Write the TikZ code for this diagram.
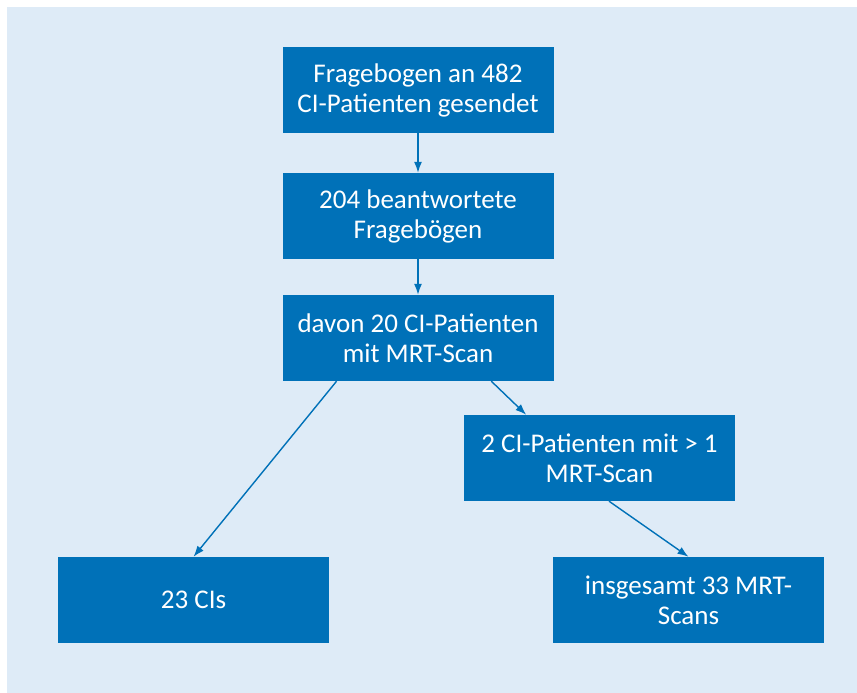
\documentclass[tikz,border=0pt]{standalone}
\usepackage{fontspec}
\setmainfont{Carlito}
\usetikzlibrary{arrows.meta,positioning,calc}
\definecolor{boxblue}{RGB}{0,113,184}
\definecolor{bglight}{RGB}{222,235,247}

\begin{document}
\begin{tikzpicture}[x=1pt,y=1pt,
    box/.style={fill=boxblue, text=white, minimum width=271pt, minimum height=86pt,
                inner sep=0pt, align=center, font=\fontsize{27}{30}\selectfont},
    flow/.style={draw=boxblue, line width=1.4pt, -{Latex[length=11pt,width=8pt]}}]
    % Page and light background
    \useasboundingbox (0,0) rectangle (857,693);
    \fill[bglight] (7,0) rectangle (857,686);

    % Boxes
    \node[box] (sent) at (418,603) {Fragebogen an 482\\CI-Patienten gesendet};
    \node[box] (answered) at (418,477) {204 beantwortete\\Fragebögen};
    \node[box] (mri) at (418,355) {davon 20 CI-Patienten\\mit MRT-Scan};
    \node[box] (multi) at (599.5,235) {2 CI-Patienten mit > 1\\MRT-Scan};
    \node[box] (cis) at (193.5,93) {23 CIs};
    \node[box] (scans) at (688.5,93) {insgesamt 33 MRT-\\Scans};

    % Arrows
    \draw[flow] (sent) -- (answered);
    \draw[flow] (answered) -- (mri);
    \draw[flow] ($(mri.south west)!0.2!(mri.south east)$) -- (cis.north);
    \draw[flow] ($(mri.south west)!0.77!(mri.south east)$) -- ($(multi.north west)!0.23!(multi.north east)$);
    \draw[flow] ($(multi.south west)!0.535!(multi.south east)$) -- (scans.north);
\end{tikzpicture}
\end{document}
